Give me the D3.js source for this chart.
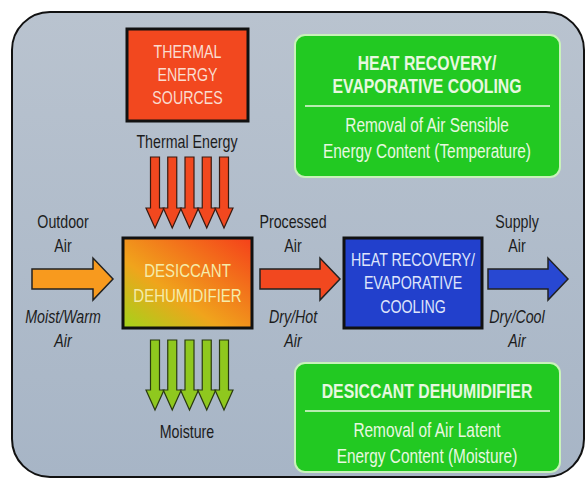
<!DOCTYPE html>
<html>
<head>
<meta charset="utf-8">
<title>Desiccant dehumidification process</title>
<script src="https://cdnjs.cloudflare.com/ajax/libs/d3/7.8.5/d3.min.js"></script>
<style>
  body { margin: 0; background: #fff; }
  svg { display: block; font-family: 'Liberation Sans', Arial, sans-serif; }
</style>
</head>
<body>
<div id="chart"></div>
<script>
// text content of the diagram
const sourceLines = ['THERMAL', 'ENERGY', 'SOURCES'];
const dehumLines = ['DESICCANT', 'DEHUMIDIFIER'];
const coolerLines = ['HEAT RECOVERY/', 'EVAPORATIVE', 'COOLING'];
const airLabelsTop = [['Outdoor', 'Air'], ['Processed', 'Air'], ['Supply', 'Air']];
const airLabelsBottom = [['Moist/Warm', 'Air'], ['Dry/Hot', 'Air'], ['Dry/Cool', 'Air']];
const legendTitles = [['HEAT RECOVERY/', 'EVAPORATIVE COOLING'], ['DESICCANT DEHUMIDIFIER']];
const legendBodies = [['Removal of Air Sensible', 'Energy Content (Temperature)'],
                      ['Removal of Air Latent', 'Energy Content (Moisture)']];
const flowArrows = [0, 1, 2, 3, 4];   // five arrows in / out of the dehumidifier

const W = 586, H = 478;
const squeeze = 0.79;   // the original lettering is condensed
const svg = d3.select('#chart').append('svg').attr('width', W).attr('height', H);

const defs = svg.append('defs');
const grad = defs.append('linearGradient').attr('id', 'dehum')
  .attr('x1', '0%').attr('y1', '100%').attr('x2', '100%').attr('y2', '0%');
grad.append('stop').attr('offset', '0%').attr('stop-color', '#a2d41a');
grad.append('stop').attr('offset', '38%').attr('stop-color', '#f0a41c');
grad.append('stop').attr('offset', '100%').attr('stop-color', '#f5401a');

const bgGrad = defs.append('linearGradient').attr('id', 'bg')
  .attr('x1', '0').attr('y1', '0').attr('x2', '0').attr('y2', '1');
bgGrad.append('stop').attr('offset', '0%').attr('stop-color', '#b9c3cf');
bgGrad.append('stop').attr('offset', '100%').attr('stop-color', '#a7b5c6');

// outer panel
svg.append('rect')
  .attr('x', 12).attr('y', 12).attr('width', 572).attr('height', 465)
  .attr('rx', 38)
  .attr('fill', 'url(#bg)').attr('stroke', '#111').attr('stroke-width', 2);

function textBlock(g, lines, cx, y0, step, opts) {
  g.selectAll(null).data(lines).join('text')
    .attr('transform', (d, i) => `translate(${cx},${y0 + i * step}) scale(${squeeze},1)`)
    .attr('text-anchor', 'middle')
    .attr('dominant-baseline', 'middle')
    .attr('font-size', opts.size)
    .attr('font-weight', opts.weight || 'normal')
    .attr('font-style', opts.style || 'normal')
    .attr('fill', opts.fill)
    .text(d => d);
}

// horizontal arrow: x0 start, x1 tip, cy centre
function hArrow(x0, x1, cy, shaft, head, headLen) {
  const xh = x1 - headLen;
  return `M${x0},${cy - shaft}L${xh},${cy - shaft}L${xh},${cy - head}L${x1},${cy}` +
    `L${xh},${cy + head}L${xh},${cy + shaft}L${x0},${cy + shaft}Z`;
}
function vArrow(cx, y0, y1, shaft, head, headLen) {
  const yh = y1 - headLen;
  return `M${cx - shaft},${y0}L${cx - shaft},${yh}L${cx - head},${yh}L${cx},${y1}` +
    `L${cx + head},${yh}L${cx + shaft},${yh}L${cx + shaft},${y0}Z`;
}

// thermal energy sources box
const g = svg.append('g');
g.append('rect').attr('x', 127).attr('y', 29).attr('width', 121).attr('height', 92)
  .attr('fill', '#f2481f').attr('stroke', '#111').attr('stroke-width', 3);
textBlock(g, sourceLines, 187.5, 53, 23, { size: 18, fill: '#fadccf' });
textBlock(g, ['Thermal Energy'], 187, 143, 0, { size: 18, fill: '#1c1c1c' });

// arrow columns
const xArrow = d3.scaleLinear().domain([0, 4]).range([155, 224]);
g.selectAll('path.heat').data(flowArrows).join('path')
  .attr('class', 'heat')
  .attr('d', d => vArrow(xArrow(d), 157, 228, 4.5, 9, 20))
  .attr('fill', '#f2481f').attr('stroke', '#3a1a10').attr('stroke-width', 1.2)
  .attr('stroke-linejoin', 'miter');
g.selectAll('path.moist').data(flowArrows).join('path')
  .attr('class', 'moist')
  .attr('d', d => vArrow(xArrow(d), 340, 410, 4.5, 9, 20))
  .attr('fill', '#8fc81e').attr('stroke', '#2a3a10').attr('stroke-width', 1.2);
textBlock(g, ['Moisture'], 187, 433, 0, { size: 18, fill: '#1c1c1c' });

// desiccant dehumidifier
g.append('rect').attr('x', 123).attr('y', 238).attr('width', 129).attr('height', 90)
  .attr('fill', 'url(#dehum)').attr('stroke', '#111').attr('stroke-width', 3);
textBlock(g, dehumLines, 187.5, 272, 25, { size: 19, fill: '#f5ecaa' });

// heat recovery / evaporative cooling
g.append('rect').attr('x', 344).attr('y', 238).attr('width', 138).attr('height', 90)
  .attr('fill', '#2240cc').attr('stroke', '#111').attr('stroke-width', 3);
textBlock(g, coolerLines, 413, 261, 23.5, { size: 18, fill: '#dfe5fb' });

// air flow arrows
const airArrows = [
  { x0: 32, x1: 113, fill: '#f89a1e' },
  { x0: 260, x1: 340, fill: '#f2481f' },
  { x0: 488, x1: 568, fill: '#2848d2' }
];
g.selectAll('path.air').data(airArrows).join('path')
  .attr('class', 'air')
  .attr('d', d => hArrow(d.x0, d.x1, 279, 10, 21, 20))
  .attr('fill', d => d.fill).attr('stroke', '#222').attr('stroke-width', 1.5);

const labelX = [63, 293, 517];
airLabelsTop.forEach((lines, i) =>
  textBlock(g, lines, labelX[i], 223, 24, { size: 18, fill: '#1c1c1c' }));
airLabelsBottom.forEach((lines, i) =>
  textBlock(g, lines, labelX[i], 318, 24, { size: 18, style: 'italic', fill: '#1c1c1c' }));

// green legend boxes
const legendY = [35, 363];
const legendH = [142, 109];
legendTitles.forEach((title, i) => {
  const y = legendY[i];
  g.append('rect').attr('x', 295).attr('y', y).attr('width', 265).attr('height', legendH[i])
    .attr('rx', 10).attr('fill', '#22c922').attr('stroke', '#c9f2bb').attr('stroke-width', 2);
  textBlock(g, title, 427, y + 30, 23, { size: 20, weight: 'bold', fill: '#e8f8e0' });
  const lineY = y + 30 + (title.length - 1) * 23 + 18;
  g.append('line').attr('x1', 305).attr('x2', 550).attr('y1', lineY).attr('y2', lineY)
    .attr('stroke', '#e8f8e0').attr('stroke-width', 1.5);
  textBlock(g, legendBodies[i], 427, lineY + 21, 26, { size: 19.5, fill: '#e8f8e0' });
});
</script>
</body>
</html>
